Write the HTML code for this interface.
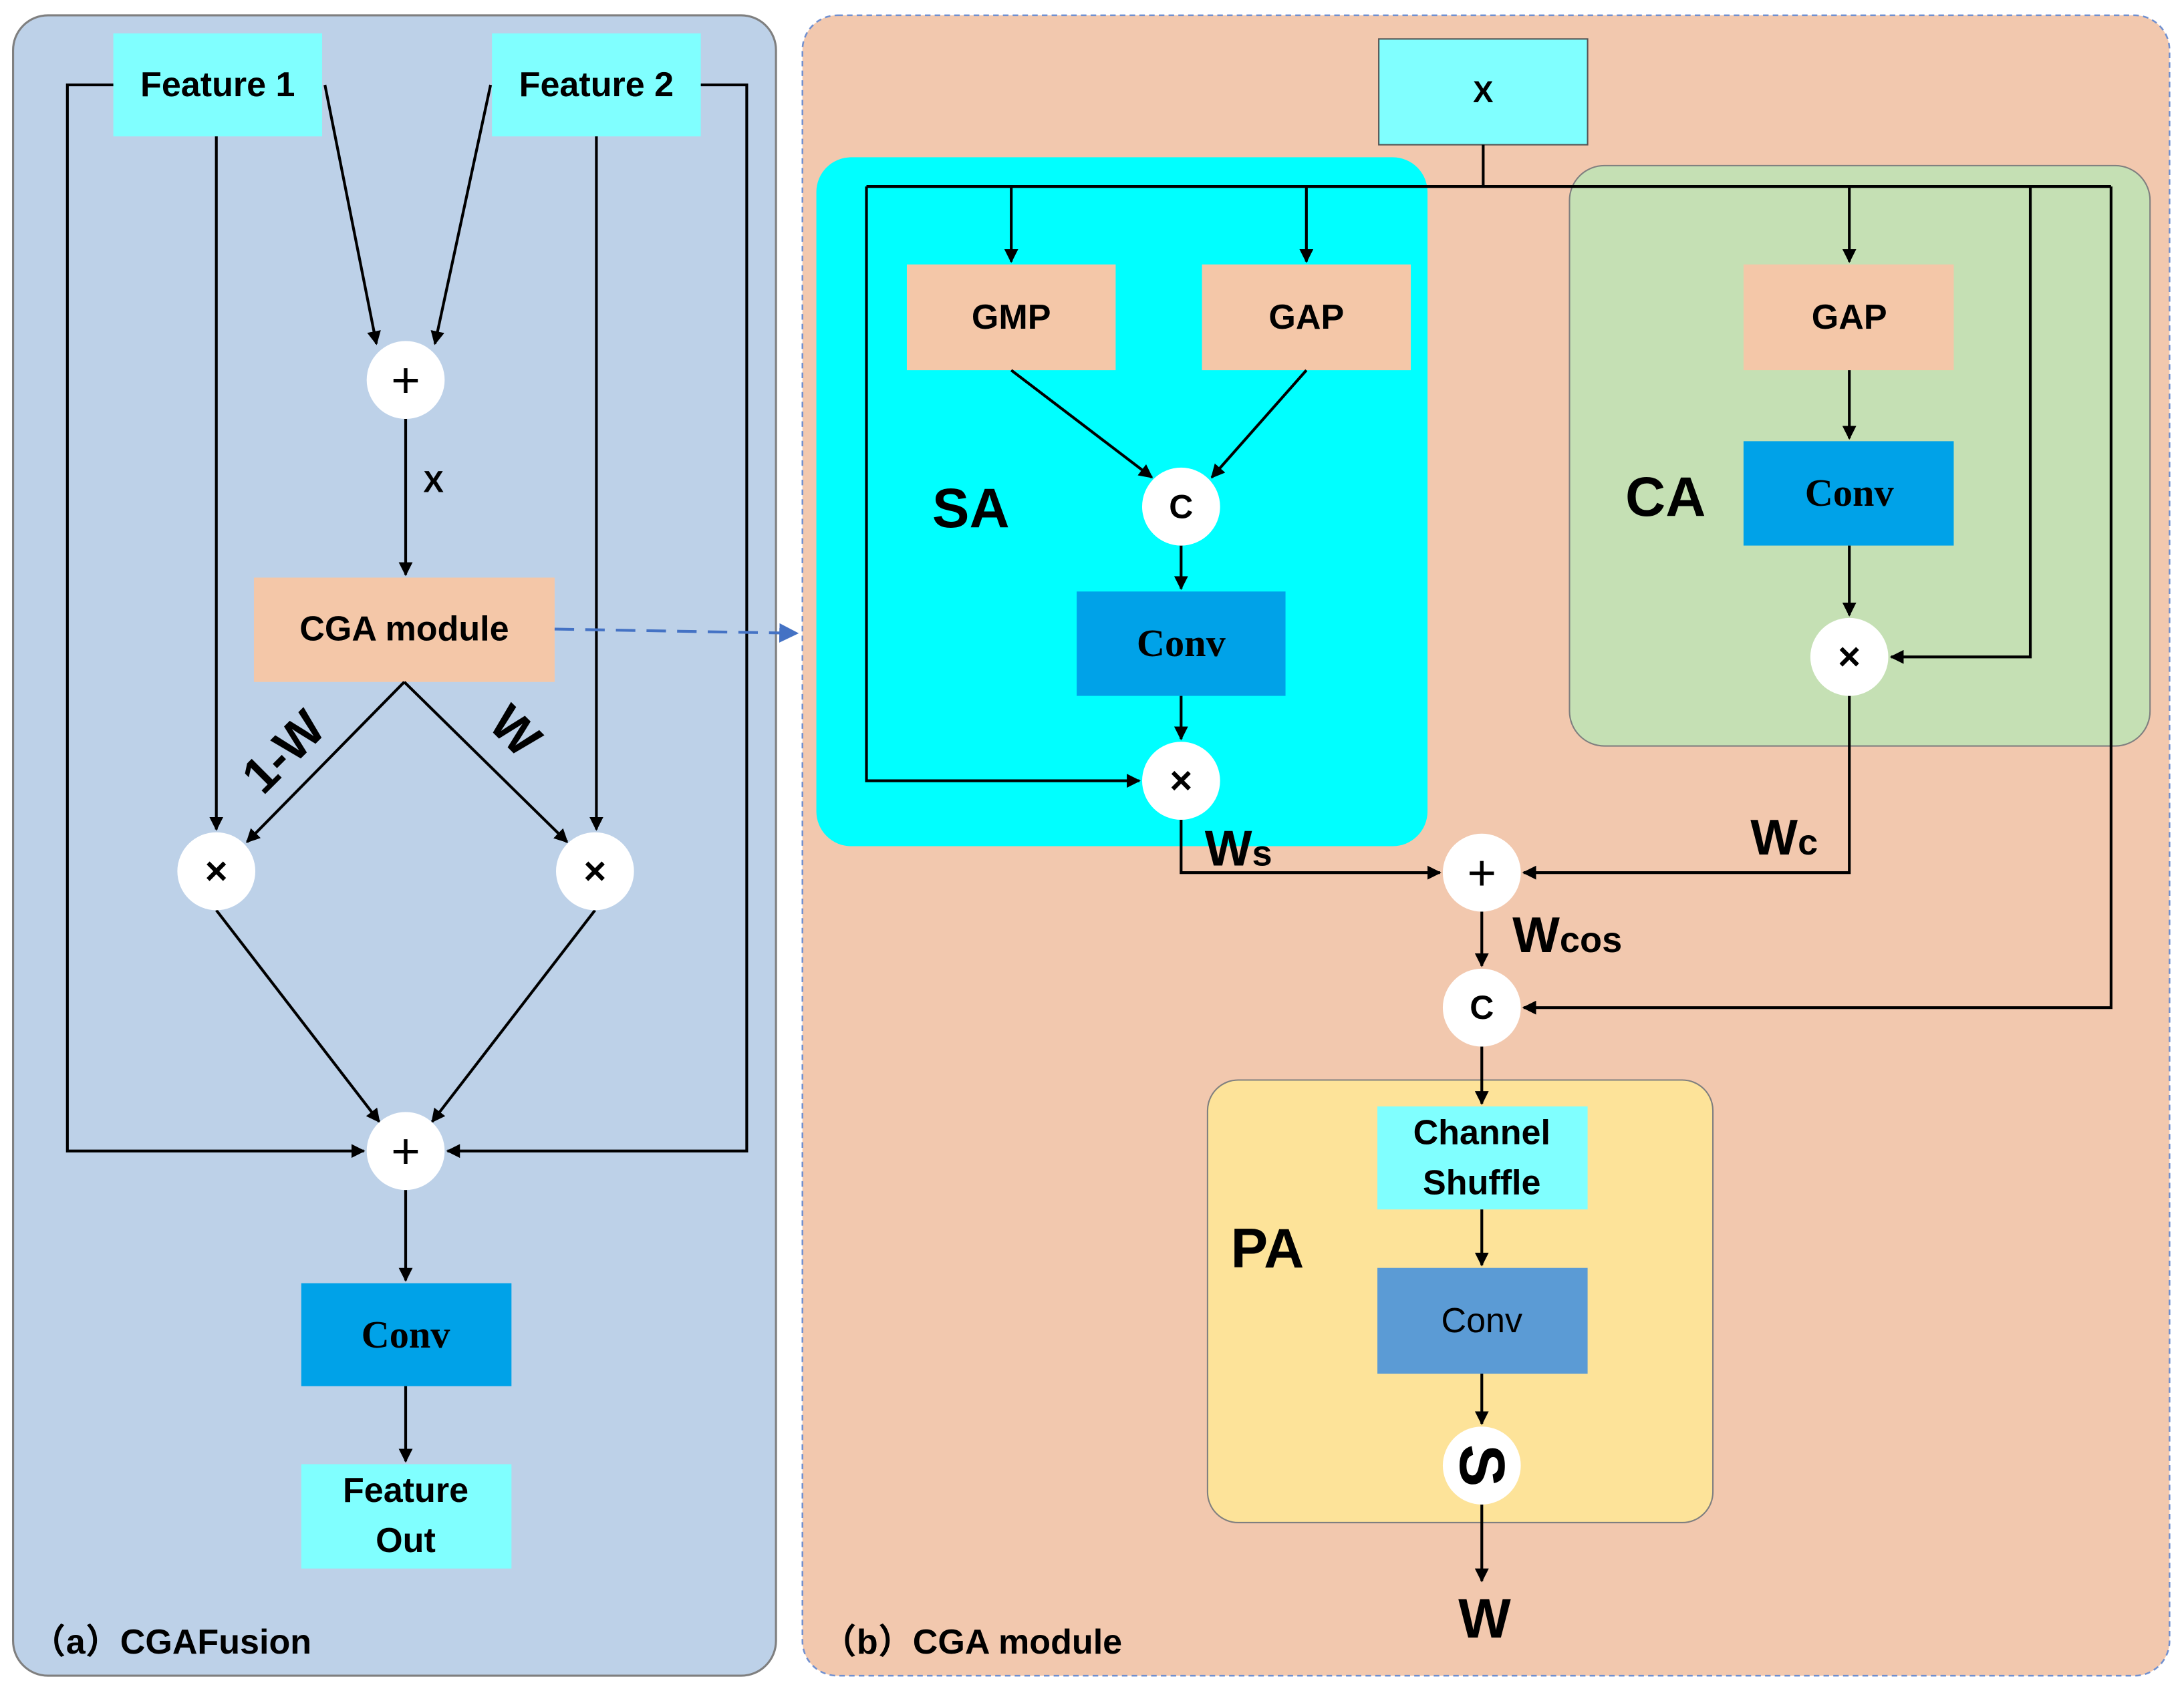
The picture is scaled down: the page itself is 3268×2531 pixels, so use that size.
<!DOCTYPE html>
<html><head><meta charset="utf-8"><style>html,body{margin:0;padding:0;background:#fff}svg{display:block}</style></head>
<body>
<svg width="3268" height="2531" viewBox="0 0 1568 1215" xmlns="http://www.w3.org/2000/svg" font-family="Liberation Sans, sans-serif" font-size="25" font-weight="bold">
<defs>
<marker id="a" viewBox="0 0 10 10" refX="9" refY="5" markerWidth="10" markerHeight="10" orient="auto-start-reverse" markerUnits="userSpaceOnUse"><path d="M0,0L10,5L0,10z" fill="#000"/></marker>
<marker id="ab" viewBox="0 0 10 10" refX="9" refY="5" markerWidth="14" markerHeight="14" orient="auto" markerUnits="userSpaceOnUse"><path d="M0,0L10,5L0,10z" fill="#4472c4"/></marker>
<style>.l{stroke:#000;stroke-width:2;fill:none}.t{text-anchor:middle;dominant-baseline:central}.c{fill:#fff}</style>
</defs>
<rect x="9" y="11" width="548" height="1193" rx="25" fill="#bdd1e8" stroke="#7f7f7f" stroke-width="1.5"/>
<rect x="576" y="11" width="982" height="1193" rx="25" fill="#f2c8ae" stroke="#6f8fd0" stroke-width="1.2" stroke-dasharray="4,3"/>
<rect x="586" y="113" width="439" height="495" rx="25" fill="#00ffff"/>
<rect x="1127" y="119" width="417" height="417" rx="25" fill="#c5e0b4" stroke="#7f7f7f" stroke-width="1"/>
<rect x="867" y="776" width="363" height="318" rx="22" fill="#fde399" stroke="#7f7f7f" stroke-width="1"/>
<rect x="81" y="24" width="150" height="74" fill="#80ffff"/><text class="t" x="156" y="61">Feature 1</text>
<rect x="353" y="24" width="150" height="74" fill="#80ffff"/><text class="t" x="428" y="61">Feature 2</text>
<rect x="182" y="415" width="216" height="75" fill="#f4c7a8"/><text class="t" x="290" y="452">CGA module</text>
<rect x="216" y="922" width="151" height="74" fill="#00a2e8"/><text class="t" x="291" y="959" font-family="Liberation Serif, serif" font-size="28">Conv</text>
<rect x="216" y="1052" width="151" height="75" fill="#80ffff"/><text class="t" x="291" y="1071">Feature</text><text class="t" x="291" y="1107">Out</text>
<path class="l" d="M81,61H48V827H261" marker-end="url(#a)"/>
<path class="l" d="M503,61H536V827H321" marker-end="url(#a)"/>
<path class="l" d="M155,98V596" marker-end="url(#a)"/>
<path class="l" d="M428,98V596" marker-end="url(#a)"/>
<path class="l" d="M233,61L270,247" marker-end="url(#a)"/>
<path class="l" d="M352,61L312,247" marker-end="url(#a)"/>
<path class="l" d="M291,301V413" marker-end="url(#a)"/>
<path class="l" d="M290,490L177,605" marker-end="url(#a)"/>
<path class="l" d="M290,490L407,605" marker-end="url(#a)"/>
<path class="l" d="M155,654L272,806" marker-end="url(#a)"/>
<path class="l" d="M427,654L310,806" marker-end="url(#a)"/>
<path class="l" d="M291,855V920" marker-end="url(#a)"/>
<path class="l" d="M291,996V1050" marker-end="url(#a)"/>
<path d="M398,452L572,455" stroke="#4472c4" stroke-width="2" stroke-dasharray="14,8" fill="none" marker-end="url(#ab)"/>
<circle class="c" cx="291" cy="273" r="28"/><text class="t" x="291" y="273" font-size="36" font-weight="normal">+</text>
<circle class="c" cx="155" cy="626" r="28"/><text class="t" x="155" y="626" font-size="28">×</text>
<circle class="c" cx="427" cy="626" r="28"/><text class="t" x="427" y="626" font-size="28">×</text>
<circle class="c" cx="291" cy="827" r="28"/><text class="t" x="291" y="827" font-size="36" font-weight="normal">+</text>
<text class="t" x="311" y="346" font-size="22">X</text>
<text class="t" x="0" y="0" font-size="36" transform="translate(203,540) rotate(-45)">1-W</text>
<text class="t" x="0" y="0" font-size="36" transform="translate(370,525) rotate(45)">W</text>
<text x="22" y="1188" font-size="25" font-family="Liberation Sans, Noto Sans CJK SC, sans-serif">（a）CGAFusion</text>
<text x="590" y="1188" font-size="25" font-family="Liberation Sans, Noto Sans CJK SC, sans-serif">（b）CGA module</text>
<rect x="990" y="28" width="150" height="76" fill="#80ffff" stroke="#555" stroke-width="1"/><text class="t" x="1065" y="66" font-size="22">X</text>
<path class="l" d="M1065,104V134M622,134H1516"/>
<path class="l" d="M622,134V561H818" marker-end="url(#a)"/>
<path class="l" d="M726,134V188" marker-end="url(#a)"/>
<path class="l" d="M938,134V188" marker-end="url(#a)"/>
<path class="l" d="M1328,134V188" marker-end="url(#a)"/>
<path class="l" d="M1458,134V472H1358" marker-end="url(#a)"/>
<path class="l" d="M1516,134V724H1094" marker-end="url(#a)"/>
<rect x="651" y="190" width="150" height="76" fill="#f4c7a8"/><text class="t" x="726" y="228">GMP</text>
<rect x="863" y="190" width="150" height="76" fill="#f4c7a8"/><text class="t" x="938" y="228">GAP</text>
<path class="l" d="M726,266L827,343" marker-end="url(#a)"/>
<path class="l" d="M938,266L870,343" marker-end="url(#a)"/>
<path class="l" d="M848,392V423" marker-end="url(#a)"/>
<rect x="773" y="425" width="150" height="75" fill="#00a2e8"/><text class="t" x="848" y="462" font-family="Liberation Serif, serif" font-size="28">Conv</text>
<path class="l" d="M848,500V531" marker-end="url(#a)"/>
<rect x="1252" y="190" width="151" height="76" fill="#f4c7a8"/><text class="t" x="1328" y="228">GAP</text>
<path class="l" d="M1328,266V315" marker-end="url(#a)"/>
<rect x="1252" y="317" width="151" height="75" fill="#00a2e8"/><text class="t" x="1328" y="354" font-family="Liberation Serif, serif" font-size="28">Conv</text>
<path class="l" d="M1328,392V442" marker-end="url(#a)"/>
<path class="l" d="M848,589V627H1034" marker-end="url(#a)"/>
<path class="l" d="M1328,500V627H1094" marker-end="url(#a)"/>
<path class="l" d="M1064,655V694" marker-end="url(#a)"/>
<path class="l" d="M1064,752V793" marker-end="url(#a)"/>
<rect x="989" y="795" width="151" height="74" fill="#80ffff"/><text class="t" x="1064" y="814">Channel</text><text class="t" x="1064" y="850">Shuffle</text>
<path class="l" d="M1064,869V909" marker-end="url(#a)"/>
<rect x="989" y="911" width="151" height="76" fill="#5b9bd5"/><text class="t" x="1064" y="949" font-weight="normal">Conv</text>
<path class="l" d="M1064,987V1023" marker-end="url(#a)"/>
<path class="l" d="M1064,1081V1136" marker-end="url(#a)"/>
<circle class="c" cx="848" cy="364" r="28"/><text class="t" x="848" y="364" font-size="24">C</text>
<circle class="c" cx="848" cy="561" r="28"/><text class="t" x="848" y="561" font-size="28">×</text>
<circle class="c" cx="1328" cy="472" r="28"/><text class="t" x="1328" y="472" font-size="28">×</text>
<circle class="c" cx="1064" cy="627" r="28"/><text class="t" x="1064" y="627" font-size="36" font-weight="normal">+</text>
<circle class="c" cx="1064" cy="724" r="28"/><text class="t" x="1064" y="724" font-size="24">C</text>
<circle class="c" cx="1064" cy="1053" r="28"/><text class="t" x="0" y="0" font-size="46" transform="translate(1064,1053) rotate(90)">S</text>
<text class="t" x="697" y="365" font-size="40">SA</text>
<text class="t" x="1196" y="357" font-size="40">CA</text>
<text class="t" x="910" y="897" font-size="40">PA</text>
<text x="865" y="622" font-size="36">W<tspan font-size="26">s</tspan></text>
<text x="1257" y="614" font-size="36">W<tspan font-size="26">c</tspan></text>
<text x="1086" y="684" font-size="36">W<tspan font-size="26">cos</tspan></text>
<text class="t" x="1066" y="1163" font-size="40">W</text>
</svg>
</body></html>
